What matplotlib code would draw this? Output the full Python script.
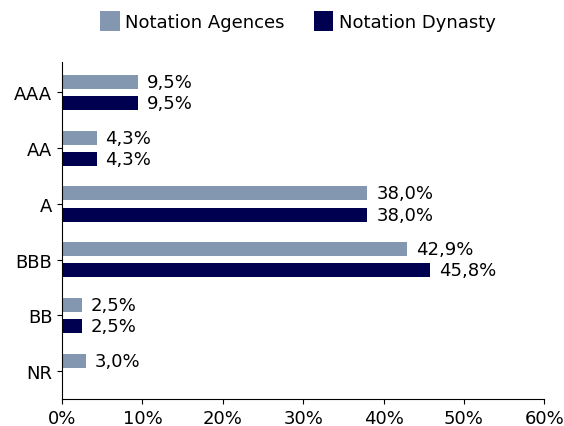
import matplotlib.pyplot as plt
import numpy as np

plt.rcParams['font.family'] = ['DejaVu Sans']

categories = ['AAA', 'AA', 'A', 'BBB', 'BB', 'NR']
agences = [9.5, 4.3, 38.0, 42.9, 2.5, 3.0]
dynasty = [9.5, 4.3, 38.0, 45.8, 2.5, 0.0]
xticks = [0, 10, 20, 30, 40, 50, 60]

col_ag = '#8497b0'
col_dy = '#000050'
fs = 13

fig = plt.figure(figsize=(5.64, 4.27), dpi=100)
ax = fig.add_axes([0.11, 0.063, 0.855, 0.79])

y = np.arange(len(categories))
h = 0.25
off = 0.19
b1 = ax.barh(y - off, agences, height=h, color=col_ag, label='Notation Agences')
b2 = ax.barh(y + off, dynasty, height=h, color=col_dy, label='Notation Dynasty')

def fmt(v):
    return ('%.1f%%' % v).replace('.', ',')

for yy, v in zip(y, agences):
    if v > 0:
        ax.text(v + 1.1, yy - off, fmt(v), va='center', ha='left', fontsize=fs)
for yy, v in zip(y, dynasty):
    if v > 0:
        ax.text(v + 1.1, yy + off, fmt(v), va='center', ha='left', fontsize=fs)

ax.set_yticks(y)
ax.set_yticklabels(categories, fontsize=fs)
ax.set_ylim(5.5, -0.55)
ax.set_xlim(0, 60)
ax.set_xticks(xticks)
ax.set_xticklabels(['%d%%' % t for t in xticks], fontsize=fs)
ax.spines['top'].set_visible(False)
ax.spines['right'].set_visible(False)

fig.legend(loc='upper center', bbox_to_anchor=(0.528, 1.01), ncol=2, frameon=False,
           fontsize=fs, handlelength=1.1, handleheight=1.3, columnspacing=1.6,
           handletextpad=0.3)

fig.savefig('out.png', dpi=100)
